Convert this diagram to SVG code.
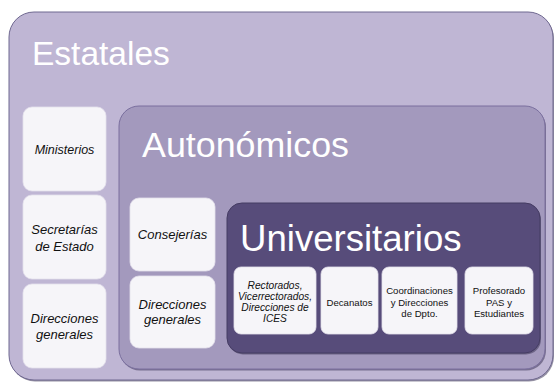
<svg xmlns="http://www.w3.org/2000/svg" width="554" height="382" viewBox="0 0 554 382">
<defs>
<style>
.hdr{font-family:"Liberation Sans",Arial,sans-serif;fill:#ffffff}
.lbl{font-family:"Liberation Sans",Arial,sans-serif;fill:#111111;text-anchor:middle}
.it{font-style:italic}
.card{fill:#f6f5f9;stroke:#e4e1ec;stroke-width:0.8}
.shadow{fill:#3e3657;opacity:0.55}
</style>
</defs>
<rect width="554" height="382" fill="#ffffff"/>
<g id="estatales">
<rect class="shadow" x="10" y="13.5" width="544" height="368" rx="25"/>
<rect x="9" y="12" width="544" height="368" rx="25" fill="#bfb6d4" stroke="#6f6890" stroke-width="1"/>
<text class="hdr" x="32" y="65" font-size="33.5">Estatales</text>
</g>
<g id="ministerios">
<rect class="card" x="23" y="107" width="83" height="84" rx="9"/>
<text class="lbl it" x="64.5" y="154" font-size="12.5">Ministerios</text>
</g>
<g id="secretarias">
<rect class="card" x="23" y="195" width="83" height="84" rx="9"/>
<text class="lbl it" x="64.5" y="233.5" font-size="13">Secretarías</text>
<text class="lbl it" x="64.5" y="250.5" font-size="13">de Estado</text>
</g>
<g id="direcciones-estatales">
<rect class="card" x="23" y="284" width="83" height="84" rx="9"/>
<text class="lbl it" x="64.5" y="322.5" font-size="13">Direcciones</text>
<text class="lbl it" x="64.5" y="338.5" font-size="13">generales</text>
</g>
<g id="autonomicos">
<rect class="shadow" x="120" y="107.5" width="426" height="263" rx="20"/>
<rect x="119" y="106" width="426" height="263" rx="20" fill="#a399bd" stroke="#7a6f9e" stroke-width="1"/>
<text class="hdr" x="142" y="157" font-size="35.8">Autonómicos</text>
</g>
<g id="consejerias">
<rect class="card" x="130" y="198" width="85" height="73" rx="9"/>
<text class="lbl it" x="172.5" y="238.5" font-size="13">Consejerías</text>
</g>
<g id="direcciones-autonomicas">
<rect class="card" x="130" y="276" width="85" height="72" rx="9"/>
<text class="lbl it" x="172.5" y="308.5" font-size="13">Direcciones</text>
<text class="lbl it" x="172.5" y="323.5" font-size="13">generales</text>
</g>
<g id="universitarios">
<rect class="shadow" x="228" y="204.5" width="313" height="150" rx="15"/>
<rect x="227" y="203" width="313" height="150" rx="15" fill="#574c7a" stroke="#453c63" stroke-width="1"/>
<text class="hdr" x="240" y="251" font-size="36.6">Universitarios</text>
</g>
<g id="rectorados">
<rect class="card" x="234" y="267" width="82" height="67" rx="7"/>
<text class="lbl it" x="275" y="288.5" font-size="10.2">Rectorados,</text>
<text class="lbl it" x="275" y="299.5" font-size="10.2">Vicerrectorados,</text>
<text class="lbl it" x="275" y="310.5" font-size="10.2">Direcciones de</text>
<text class="lbl it" x="275" y="322" font-size="10.2">ICES</text>
</g>
<g id="decanatos">
<rect class="card" x="321" y="267" width="57" height="67" rx="7"/>
<text class="lbl" x="349.5" y="305.5" font-size="9.6">Decanatos</text>
</g>
<g id="coordinaciones">
<rect class="card" x="382" y="267" width="75" height="67" rx="7"/>
<text class="lbl" x="419.5" y="293.5" font-size="9.6">Coordinaciones</text>
<text class="lbl" x="419.5" y="305.5" font-size="9.6">y Direcciones</text>
<text class="lbl" x="419.5" y="316.5" font-size="9.6">de Dpto.</text>
</g>
<g id="profesorado">
<rect class="card" x="465" y="267" width="68" height="67" rx="7"/>
<text class="lbl" x="499" y="293.5" font-size="9.6">Profesorado</text>
<text class="lbl" x="499" y="305.5" font-size="9.6">PAS y</text>
<text class="lbl" x="499" y="316.5" font-size="9.6">Estudiantes</text>
</g>
<g id="connectors"></g>
</svg>
